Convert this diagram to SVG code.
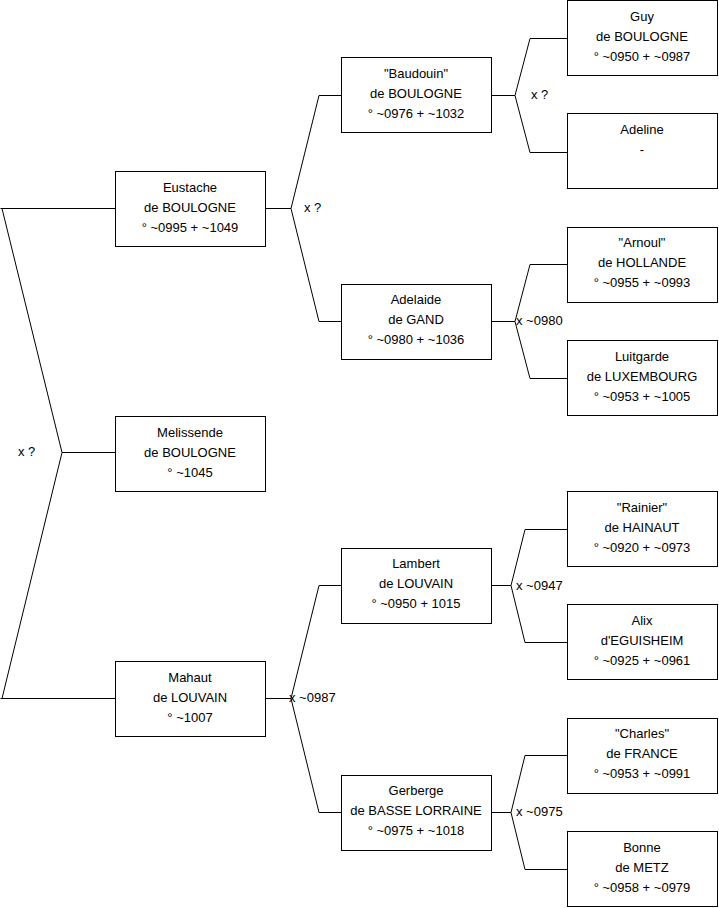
<svg xmlns="http://www.w3.org/2000/svg" width="719" height="908" viewBox="0 0 719 908">
<style>
.box{fill:#fff;stroke:#000;stroke-width:1}
.ln{fill:none;stroke:#000;stroke-width:1}
text{font-family:"Liberation Sans",Arial,sans-serif;font-size:13px;fill:#000}
.c{text-anchor:middle}
</style>
<rect width="719" height="908" fill="#fff"/>
<g id="connectors">
<path class="ln" d="M115 208.5 H0.5 M2 208.5 L62 452.5 L2 698.5 M62 452.5 H115 M0.5 698.5 H115"/>
<path class="ln" d="M265 208.5 H291 L319 95.5 H341 M291 208.5 L319 321.5 H341"/>
<path class="ln" d="M265 698.5 H291 L319 585.5 H341 M291 698.5 L319 812.5 H341"/>
<path class="ln" d="M492 95.5 H515 L530 38.5 H567 M515 95.5 L530 152.5 H567"/>
<path class="ln" d="M492 321.5 H515 L530 264.5 H567 M515 321.5 L530 378.5 H567"/>
<path class="ln" d="M492 585.5 H511 L525 529.5 H567 M511 585.5 L525 642.5 H567"/>
<path class="ln" d="M492 812.5 H511 L525 755.5 H567 M511 812.5 L525 869.5 H567"/>
<text x="18" y="456">x ?</text>
<text x="304" y="212">x ?</text>
<text x="289" y="702">x ~0987</text>
<text x="531" y="99">x ?</text>
<text x="516" y="325">x ~0980</text>
<text x="516" y="590">x ~0947</text>
<text x="516" y="816">x ~0975</text>
</g>
<g id="eustache"><rect class="box" x="115.5" y="171.5" width="150" height="75"/><text class="c" x="190" y="192">Eustache</text><text class="c" x="190" y="212">de BOULOGNE</text><text class="c" x="190" y="232">° ~0995 + ~1049</text></g>
<g id="melissende"><rect class="box" x="115.5" y="416.5" width="150" height="75"/><text class="c" x="190" y="437">Melissende</text><text class="c" x="190" y="457">de BOULOGNE</text><text class="c" x="190" y="477">° ~1045</text></g>
<g id="mahaut"><rect class="box" x="115.5" y="661.5" width="150" height="75"/><text class="c" x="190" y="682">Mahaut</text><text class="c" x="190" y="702">de LOUVAIN</text><text class="c" x="190" y="722">° ~1007</text></g>
<g id="baudouin"><rect class="box" x="341.5" y="57.5" width="150" height="75"/><text class="c" x="416" y="78">"Baudouin"</text><text class="c" x="416" y="98">de BOULOGNE</text><text class="c" x="416" y="118">° ~0976 + ~1032</text></g>
<g id="adelaide"><rect class="box" x="341.5" y="284.5" width="150" height="75"/><text class="c" x="416" y="304">Adelaide</text><text class="c" x="416" y="324">de GAND</text><text class="c" x="416" y="344">° ~0980 + ~1036</text></g>
<g id="lambert"><rect class="box" x="341.5" y="548.5" width="150" height="75"/><text class="c" x="416" y="568">Lambert</text><text class="c" x="416" y="588">de LOUVAIN</text><text class="c" x="416" y="608">° ~0950 + 1015</text></g>
<g id="gerberge"><rect class="box" x="341.5" y="775.5" width="150" height="75"/><text class="c" x="416" y="795">Gerberge</text><text class="c" x="416" y="815">de BASSE LORRAINE</text><text class="c" x="416" y="835">° ~0975 + ~1018</text></g>
<g id="guy"><rect class="box" x="567.5" y="0.5" width="150" height="75"/><text class="c" x="642" y="21">Guy</text><text class="c" x="642" y="41">de BOULOGNE</text><text class="c" x="642" y="61">° ~0950 + ~0987</text></g>
<g id="adeline"><rect class="box" x="567.5" y="113.5" width="150" height="75"/><text class="c" x="642" y="134">Adeline</text><text class="c" x="642" y="154">-</text></g>
<g id="arnoul"><rect class="box" x="567.5" y="227.5" width="150" height="75"/><text class="c" x="642" y="247">"Arnoul"</text><text class="c" x="642" y="267">de HOLLANDE</text><text class="c" x="642" y="287">° ~0955 + ~0993</text></g>
<g id="luitgarde"><rect class="box" x="567.5" y="340.5" width="150" height="75"/><text class="c" x="642" y="361">Luitgarde</text><text class="c" x="642" y="381">de LUXEMBOURG</text><text class="c" x="642" y="401">° ~0953 + ~1005</text></g>
<g id="rainier"><rect class="box" x="567.5" y="491.5" width="150" height="75"/><text class="c" x="642" y="512">"Rainier"</text><text class="c" x="642" y="532">de HAINAUT</text><text class="c" x="642" y="552">° ~0920 + ~0973</text></g>
<g id="alix"><rect class="box" x="567.5" y="604.5" width="150" height="75"/><text class="c" x="642" y="625">Alix</text><text class="c" x="642" y="645">d'EGUISHEIM</text><text class="c" x="642" y="665">° ~0925 + ~0961</text></g>
<g id="charles"><rect class="box" x="567.5" y="718.5" width="150" height="75"/><text class="c" x="642" y="738">"Charles"</text><text class="c" x="642" y="758">de FRANCE</text><text class="c" x="642" y="778">° ~0953 + ~0991</text></g>
<g id="bonne"><rect class="box" x="567.5" y="831.5" width="150" height="75"/><text class="c" x="642" y="852">Bonne</text><text class="c" x="642" y="872">de METZ</text><text class="c" x="642" y="892">° ~0958 + ~0979</text></g>
</svg>
